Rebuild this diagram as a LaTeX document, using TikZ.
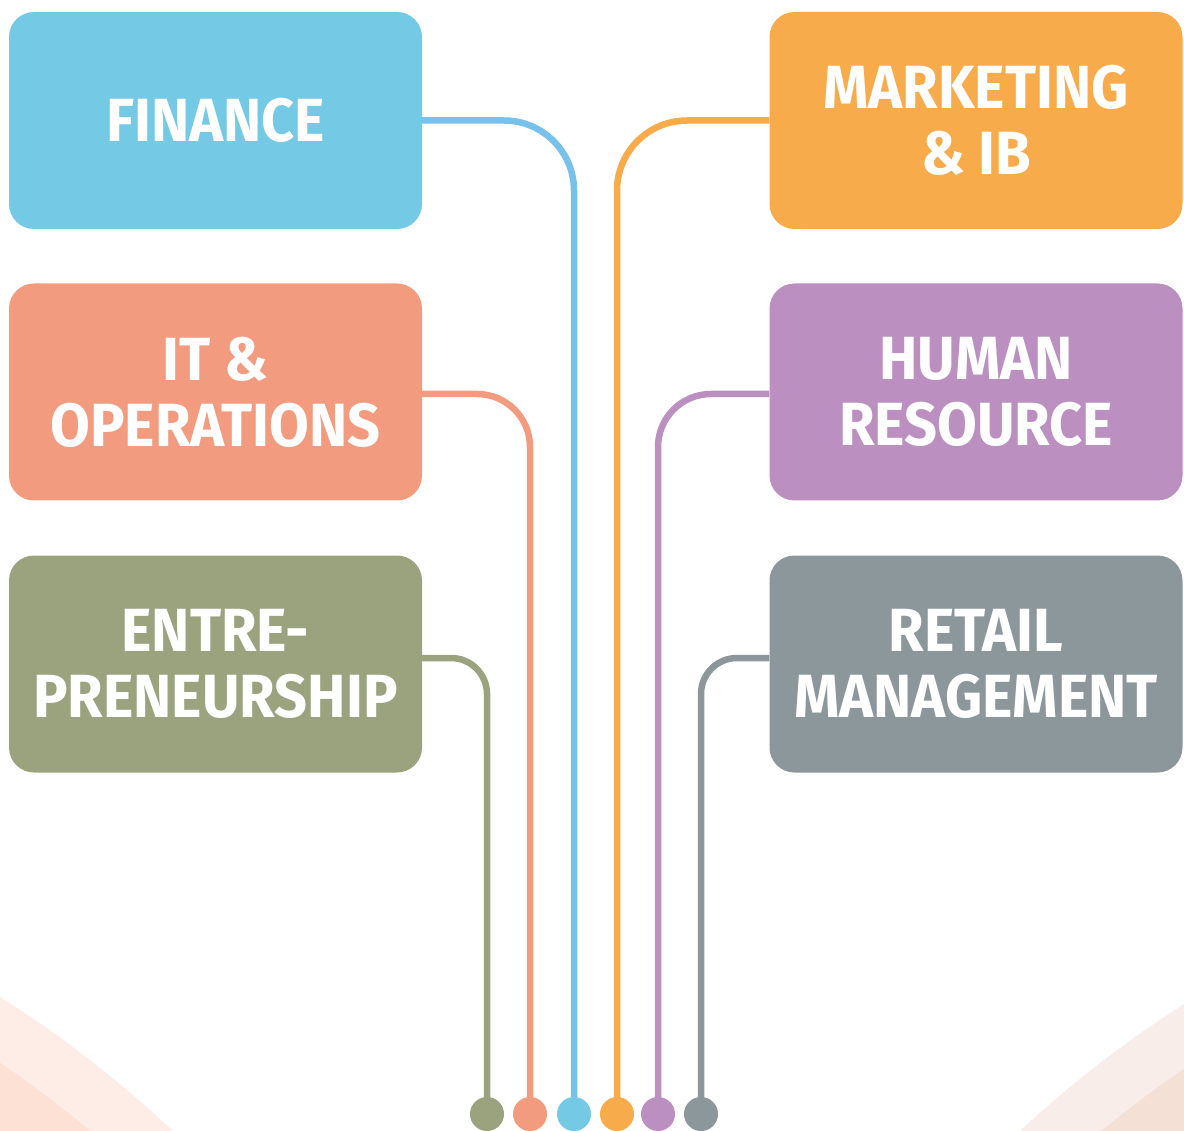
\documentclass[tikz,border=0pt]{standalone}
\usepackage{fontspec}
\setmainfont{Fira Sans}[FakeStretch=0.945]
\definecolor{finbox}{HTML}{74C9E5}
\definecolor{finline}{HTML}{77C1EA}
\definecolor{mktbox}{HTML}{F7AB4A}
\definecolor{itbox}{HTML}{F29B7E}
\definecolor{hrbox}{HTML}{BC8FC1}
\definecolor{entbox}{HTML}{9AA27E}
\definecolor{retbox}{HTML}{8C979C}
\definecolor{ringLa}{HTML}{FDEDE6}
\definecolor{ringLb}{HTML}{FCE1D4}
\definecolor{ringRa}{HTML}{F9EDE9}
\definecolor{ringRb}{HTML}{F5E0D6}
\begin{document}
\begin{tikzpicture}[x=1pt,y=-1pt,
  area/.style={rectangle, rounded corners=25pt, minimum width=413pt, minimum height=217pt,
    inner sep=0pt, text=white, align=center,
    font=\bfseries\fontsize{61}{66}\selectfont},
  conn/.style={line width=6.5pt},
  dot/.style={circle, minimum size=34pt, inner sep=0pt}]
\useasboundingbox (0,0) rectangle (1184,1131);
\fill[white] (0,0) rectangle (1184,1131);
% soft rings in the lower corners
\begin{scope}
  \clip (0,0) rectangle (1184,1131);
  \fill[ringLa] (-600,1950) circle[radius=1126];
  \fill[ringLb] (-600,1950) circle[radius=1071];
  \fill[ringRa] (1784,1950) circle[radius=1120];
  \fill[ringRb] (1784,1950) circle[radius=1066];
\end{scope}
% subject boxes
\node[area, fill=finbox] (fin) at (215.5,120.5) {FINANCE};
\node[area, fill=mktbox] (mkt) at (976,120.5) {MARKETING\\\& IB};
\node[area, fill=itbox]  (it)  at (215.5,392) {IT \&\\OPERATIONS};
\node[area, fill=hrbox]  (hr)  at (976,392) {HUMAN\\RESOURCE};
\node[area, fill=entbox] (ent) at (215.5,664) {ENTRE-\\PRENEURSHIP};
\node[area, fill=retbox] (ret) at (976,664) {RETAIL\\MANAGEMENT};
% end dots
\coordinate (pent) at (487,1114);
\coordinate (pit)  at (530,1114);
\coordinate (pfin) at (574,1114);
\coordinate (pmkt) at (617,1114);
\coordinate (phr)  at (658,1114);
\coordinate (pret) at (701,1114);
\coordinate (sent) at ([yshift=6pt]ent.east);
\coordinate (sret) at ([yshift=6pt]ret.west);
% connectors
\draw[conn, finline, rounded corners=70pt] (fin.east) -| (pfin);
\draw[conn, mktbox, rounded corners=70pt] (mkt.west) -| (pmkt);
\draw[conn, itbox, rounded corners=53pt] ([yshift=-2pt]it.east) -| (pit);
\draw[conn, hrbox, rounded corners=53pt] ([yshift=-2pt]hr.west) -| (phr);
\draw[conn, entbox, rounded corners=36pt] (sent) -| (pent);
\draw[conn, retbox, rounded corners=36pt] (sret) -| (pret);
\node[dot, fill=entbox] (dent) at (pent) {};
\node[dot, fill=itbox]  (dit)  at (pit) {};
\node[dot, fill=finbox] (dfin) at (pfin) {};
\node[dot, fill=mktbox] (dmkt) at (pmkt) {};
\node[dot, fill=hrbox]  (dhr)  at (phr) {};
\node[dot, fill=retbox] (dret) at (pret) {};
\end{tikzpicture}
\end{document}
